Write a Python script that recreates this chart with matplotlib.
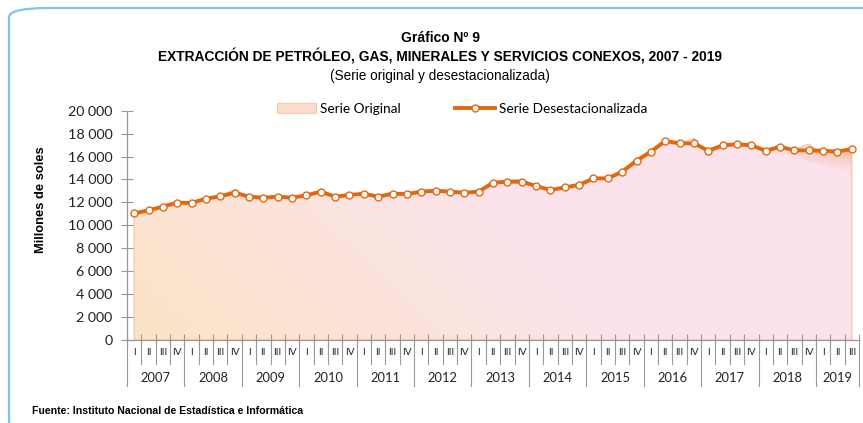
import matplotlib
matplotlib.use("Agg")
import matplotlib.pyplot as plt
import numpy as np
from matplotlib.patches import FancyBboxPatch, Patch, Polygon
from matplotlib.lines import Line2D
from matplotlib.colors import LinearSegmentedColormap, to_rgb

years = ["2007", "2008", "2009", "2010", "2011", "2012", "2013",
         "2014", "2015", "2016", "2017", "2018", "2019"]
quarters = ["I", "II", "III", "IV"]

# seasonally adjusted series (millions of soles), 2007-I .. 2019-III
desest = [
    11050, 11310, 11630, 11980, 11950, 12330, 12530, 12850,
    12500, 12410, 12500, 12410, 12620, 12940, 12500, 12650,
    12760, 12500, 12760, 12730, 12940, 13020, 12940, 12850,
    12940, 13720, 13810, 13810, 13430, 13080, 13310, 13520,
    14100, 14100, 14680, 15640, 16430, 17360, 17150, 17150,
    16510, 16980, 17070, 16980, 16510, 16860, 16540, 16540,
    16510, 16430, 16660,
]
# original series
original = [
    10900, 11250, 11750, 12100, 11900, 12350, 12600, 13100,
    12400, 12300, 12550, 12500, 12600, 12950, 12450, 12800,
    12650, 12550, 12900, 12700, 13000, 12950, 13050, 12800,
    12850, 13650, 13900, 14000, 13400, 13000, 13350, 13700,
    14050, 14050, 14550, 15500, 16300, 17350, 17150, 17600,
    16150, 16900, 17100, 17200, 16150, 16850, 16600, 17100,
    16150, 16350, 16650,
]
# lower edge of the shaded band under the last quarters
shade_start = 45
shade_low = [16510, 16300, 15900, 15600, 15250, 14900, 14450]

orange = "#E2680F"
label_font = ["Lato", "DejaVu Sans"]
narrow = ["Liberation Sans Narrow", "Liberation Sans", "DejaVu Sans"]

W, H = 863, 423
fig = plt.figure(figsize=(W / 100, H / 100), dpi=100)

border = FancyBboxPatch((9 / W, -8 / H), 900 / W, 423 / H,
                        boxstyle="round,pad=0,rounding_size=0.045",
                        transform=fig.transFigure, fill=False,
                        edgecolor="#7cc7e8", linewidth=1.6, mutation_aspect=H / W)
fig.patches.append(border)

ax = fig.add_axes([127 / W, (H - 340) / H, 732 / W, 229.3 / H])

n = len(desest)
x = np.arange(1, n + 1)

# area of the original series with a soft peach-to-pink gradient
area = ax.fill_between(x, 0, original, facecolor="none", edgecolor="#f6c29c",
                       linewidth=0.8, zorder=1)
cmap = LinearSegmentedColormap.from_list("grad", ["#fbe3c6", "#fce3ea", "#fce2ee"])
gx, gy = np.meshgrid(np.linspace(0, 1, 200), np.linspace(0, 1, 100))
grad = 0.75 * gx + 0.25 * gy
img = ax.imshow(grad, cmap=cmap, extent=[0.5, n + 0.5, 0, 20000], origin="lower",
                aspect="auto", zorder=0.5)
img.set_clip_path(area.get_paths()[0], transform=ax.transData)

# darker orange shading under the end of the series
xs = x[shade_start - 1:]
top = np.array(desest[shade_start - 1:])
poly = Polygon(np.column_stack([np.r_[xs, xs[::-1]], np.r_[top, shade_low[::-1]]]),
               closed=True, facecolor="none", edgecolor="none")
ax.add_patch(poly)
sx, sy = np.meshgrid(np.linspace(0, 1, 100), np.linspace(0, 1, 100))
rgba = np.zeros((100, 100, 4))
rgba[..., :3] = to_rgb("#ee9a5c")
rgba[..., 3] = np.clip(sx, 0, 1) ** 1.2 * np.clip(sy, 0, 1) ** 1.5 * 0.85
shade = ax.imshow(rgba, extent=[xs[0], xs[-1], 14400, 17100], origin="lower",
                  aspect="auto", zorder=0.8)
shade.set_clip_path(poly)
ax.set_xlim(0.5, n + 0.5)

ax.plot(x, desest, color=orange, linewidth=2.8, marker="o", markersize=5,
        markerfacecolor="white", markeredgecolor=orange, markeredgewidth=1.0, zorder=3)

ax.set_xlim(0.5, n + 0.5)
ax.set_ylim(0, 20000)
ax.set_yticks(np.arange(0, 20001, 2000))
ax.set_yticklabels([f"{v:,}".replace(",", " ") for v in range(0, 20001, 2000)],
                   fontfamily=label_font, fontsize=10.3, color="#222222")
ax.set_xticks(np.arange(0.5, n + 1, 1))
ax.set_xticklabels([])
ax.tick_params(axis="y", direction="inout", length=9, width=0.8, color="#999999", pad=6)
ax.tick_params(axis="x", direction="inout", length=8, width=0.8, color="#999999")
for s in ["top", "right"]:
    ax.spines[s].set_visible(False)
for s in ["left", "bottom"]:
    ax.spines[s].set_color("#999999")
    ax.spines[s].set_linewidth(0.9)

# quarter and year category labels
tr = ax.get_xaxis_transform()
px = 1 / 229.3
for i in range(n):
    ax.text(i + 1, -12 * px, quarters[i % 4], transform=tr, ha="center", va="center",
            fontsize=7.3, fontfamily=label_font, color="#222222")
    if i % 4 != 0:
        ax.plot([i + 0.5, i + 0.5], [0, -24 * px], transform=tr, color="#999999",
                lw=0.8, clip_on=False)
for k, yr in enumerate(years):
    start = 4 * k + 0.5
    end = min(4 * k + 4.5, n + 0.5)
    ax.plot([start, start], [0, -46 * px], transform=tr, color="#999999", lw=0.8, clip_on=False)
    ax.text((start + end) / 2, -38 * px, yr, transform=tr, ha="center", va="center",
            fontsize=9.3, fontfamily=label_font, color="#222222")
ax.plot([n + 0.5, n + 0.5], [0, -46 * px], transform=tr, color="#999999", lw=0.8, clip_on=False)

fig.text(41 / W, (H - 200) / H, "Millones de soles", rotation=90, ha="center", va="center",
         fontfamily=narrow, fontweight="bold", fontsize=9.3)

handles = [
    Patch(facecolor="#fbdccc", edgecolor="#f7c7ae", linewidth=0.8),
    Line2D([0], [0], color=orange, linewidth=2.8, marker="o", markersize=5,
           markerfacecolor="white", markeredgecolor=orange),
]
fig.legend(handles, ["Serie Original", "Serie Desestacionalizada"], ncol=2,
           loc="center", bbox_to_anchor=(462 / W, (H - 109) / H), frameon=False,
           prop={"family": label_font, "size": 9.8}, handlelength=2.9,
           handletextpad=0.3, columnspacing=4.0, handleheight=0.8)

fig.text(440 / W, (H - 38) / H, "Gráfico Nº 9", ha="center", va="center",
         fontfamily=narrow, fontweight="bold", fontsize=10)
fig.text(440 / W, (H - 57) / H,
         "EXTRACCIÓN DE PETRÓLEO, GAS, MINERALES Y SERVICIOS CONEXOS, 2007 - 2019",
         ha="center", va="center", fontfamily=narrow, fontweight="bold", fontsize=9.9)
fig.text(440 / W, (H - 76) / H, "(Serie original y desestacionalizada)", ha="center",
         va="center", fontfamily=narrow, fontsize=9.8)
fig.text(32 / W, (H - 411) / H, "Fuente: Instituto Nacional de Estadística e Informática",
         ha="left", va="center", fontfamily=narrow, fontweight="bold", fontsize=7.6)

fig.savefig("out.png", dpi=100, facecolor="white")
